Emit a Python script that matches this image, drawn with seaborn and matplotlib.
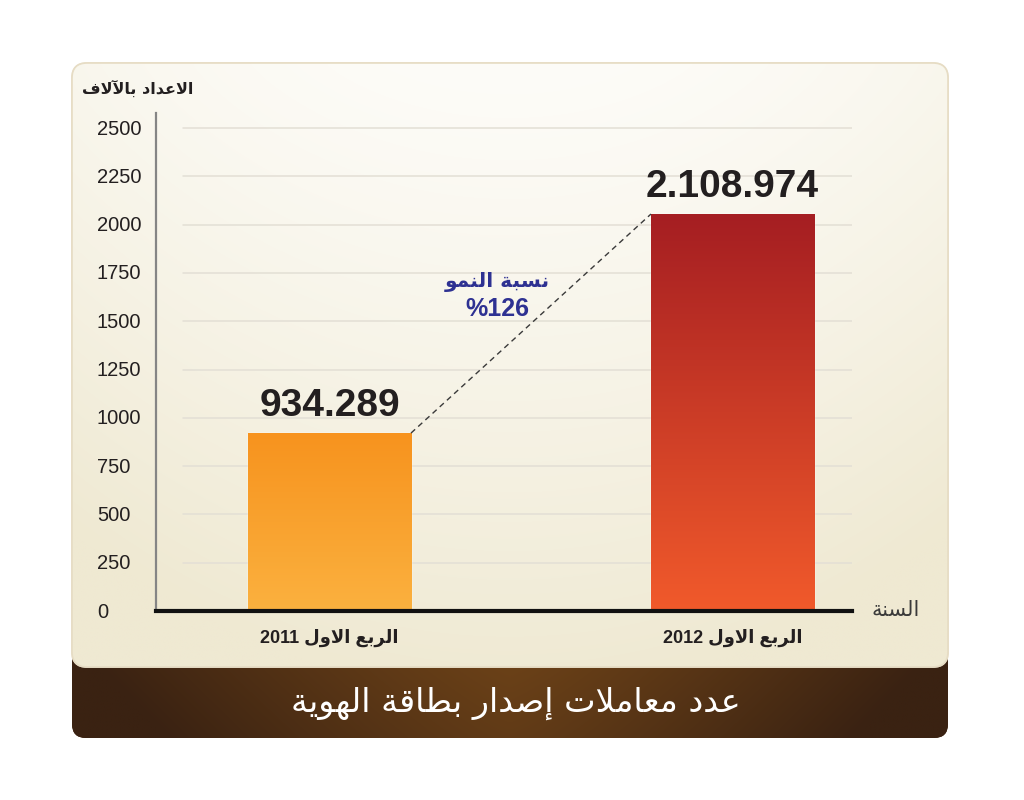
import re
import numpy as np
import pandas as pd
import matplotlib
matplotlib.use("Agg")
import matplotlib.pyplot as plt
import matplotlib.transforms as mtrans
from matplotlib.patches import FancyBboxPatch
from matplotlib.colors import to_rgb
import seaborn as sns

# ---------------- data ----------------
categories = ["الربع الاول 2011", "الربع الاول 2012"]
values = [921, 2055]
value_labels = ["934.289", "2.108.974"]
y_ticks = [0, 250, 500, 750, 1000, 1250, 1500, 1750, 2000, 2250, 2500]
y_title = "الاعداد بالآلاف"
x_title = "السنة"
growth_title = "نسبة النمو"
growth_value = "%126"
chart_title = "عدد معاملات إصدار بطاقة الهوية"

# ---------------- minimal Arabic shaping (contextual forms + RTL order) ----------------
FORMS = {
    'ا': ('\uFE8D', '\uFE8E'), 'آ': ('\uFE81', '\uFE82'), 'إ': ('\uFE87', '\uFE88'),
    'أ': ('\uFE83', '\uFE84'), 'د': ('\uFEA9', '\uFEAA'), 'ر': ('\uFEAD', '\uFEAE'),
    'و': ('\uFEED', '\uFEEE'), 'ة': ('\uFE93', '\uFE94'),
    'ب': ('\uFE8F', '\uFE90', '\uFE91', '\uFE92'), 'ت': ('\uFE95', '\uFE96', '\uFE97', '\uFE98'),
    'س': ('\uFEB1', '\uFEB2', '\uFEB3', '\uFEB4'), 'ص': ('\uFEB9', '\uFEBA', '\uFEBB', '\uFEBC'),
    'ط': ('\uFEC1', '\uFEC2', '\uFEC3', '\uFEC4'), 'ع': ('\uFEC9', '\uFECA', '\uFECB', '\uFECC'),
    'ف': ('\uFED1', '\uFED2', '\uFED3', '\uFED4'), 'ق': ('\uFED5', '\uFED6', '\uFED7', '\uFED8'),
    'ل': ('\uFEDD', '\uFEDE', '\uFEDF', '\uFEE0'), 'م': ('\uFEE1', '\uFEE2', '\uFEE3', '\uFEE4'),
    'ن': ('\uFEE5', '\uFEE6', '\uFEE7', '\uFEE8'), 'ه': ('\uFEE9', '\uFEEA', '\uFEEB', '\uFEEC'),
    'ي': ('\uFEF1', '\uFEF2', '\uFEF3', '\uFEF4'),
}
LAM_ALEF = {'ا': ('\uFEFB', '\uFEFC'), 'آ': ('\uFEF5', '\uFEF6'),
            'إ': ('\uFEF9', '\uFEFA'), 'أ': ('\uFEF7', '\uFEF8')}


def _dual(ch):
    return ch is not None and ch in FORMS and len(FORMS[ch]) == 4


def ar(text):
    res = []
    i, n = 0, len(text)
    while i < n:
        c = text[i]
        prev = text[i - 1] if i > 0 else None
        jp = _dual(prev)
        if c == 'ل' and i + 1 < n and text[i + 1] in LAM_ALEF:
            res.append(LAM_ALEF[text[i + 1]][1 if jp else 0])
            i += 2
            continue
        if c not in FORMS:
            res.append(c)
            i += 1
            continue
        nxt = text[i + 1] if i + 1 < n else None
        jn = len(FORMS[c]) == 4 and nxt in FORMS
        f = FORMS[c]
        if jp and jn:
            res.append(f[3])
        elif jp:
            res.append(f[1])
        elif jn:
            res.append(f[2])
        else:
            res.append(f[0])
        i += 1
    s = ''.join(res)[::-1]
    return re.sub(r'[0-9.%]+', lambda m: m.group(0)[::-1], s)


# ---------------- figure & decorative background ----------------
sns.set_style("white")
plt.rcParams['font.family'] = ['Liberation Sans', 'DejaVu Sans']

W, H = 1024, 800
fig = plt.figure(figsize=(W / 100, H / 100), dpi=100)
fig.patch.set_facecolor("white")

bg = fig.add_axes([0, 0, 1, 1], zorder=0)
bg.set_xlim(0, W)
bg.set_ylim(H, 0)
bg.axis('off')

# brown title band
bx0, by0, bw, bh = 72, 640, 876, 98
band = FancyBboxPatch((bx0, by0), bw, bh, boxstyle="round,pad=0,rounding_size=14",
                      facecolor="#4a2c14", edgecolor="none", zorder=1)
bg.add_patch(band)
xs = np.linspace(0, 1, 400)[None, :]
ys = np.linspace(0, 1, 60)[:, None]
e = np.abs(xs - 0.5) * 2
c_mid = np.array([110, 67, 24]) / 255
c_edge = np.array([58, 34, 18]) / 255
mix = np.clip(e ** 1.2 + 0.25 * ys, 0, 1)[:, :, None]
band_img = c_mid * (1 - mix) + c_edge * mix
im = bg.imshow(band_img, extent=(bx0, bx0 + bw, by0 + bh, by0), origin='upper',
               aspect='auto', zorder=1.1, interpolation='bilinear')
im.set_clip_path(band)

# cream panel
px0, py0, pw, ph = 72, 63, 876, 604
panel = FancyBboxPatch((px0, py0), pw, ph, boxstyle="round,pad=0,rounding_size=15",
                       facecolor="#f8f4e8", edgecolor="#e9e1cc", lw=1.2, zorder=2)
bg.add_patch(panel)
xs = np.linspace(0, 1, 300)[None, :]
ys = np.linspace(0, 1, 300)[:, None]
e = np.abs(xs - 0.5) * 2
c_top = np.array([253, 252, 248]) / 255
c_bot = np.array([239, 233, 210]) / 255
mix = np.clip(ys ** 1.2 * 0.95 + (e ** 2) * 0.3, 0, 1)[:, :, None]
panel_img = c_top * (1 - mix) + c_bot * mix
im = bg.imshow(panel_img, extent=(px0, px0 + pw, py0 + ph, py0), origin='upper',
               aspect='auto', zorder=2.1, interpolation='bilinear')
im.set_clip_path(panel)
bg.add_patch(FancyBboxPatch((px0, py0), pw, ph, boxstyle="round,pad=0,rounding_size=15",
                            facecolor="none", edgecolor="#e6dcc4", lw=1.2, zorder=2.2))

# ---------------- main chart ----------------
ax = fig.add_axes([156 / W, 1 - 611 / H, 696 / W, 498 / H], zorder=3)
ax.patch.set_alpha(0)

df = pd.DataFrame({"quarter": categories, "value": values})
bar_tops = ["#f7931e", "#a51e22"]
bar_bottoms = ["#fbb13f", "#f15a2b"]
sns.barplot(data=df, x="quarter", y="value", hue="quarter", palette=bar_tops,
            width=0.4045, saturation=1, legend=False, ax=ax, zorder=3)

xlim = (-0.4305, 1.2965)
ylim = (0, 2578)

patches = sorted(ax.patches, key=lambda p: p.get_x())
for patch, ct, cb in zip(patches, bar_tops, bar_bottoms):
    x0, y0 = patch.get_x(), patch.get_y()
    w, h = patch.get_width(), patch.get_height()
    g = np.linspace(0, 1, 256)[:, None, None]
    img = np.array(to_rgb(ct))[None, None, :] * (1 - g) + np.array(to_rgb(cb))[None, None, :] * g
    im = ax.imshow(img, extent=(x0, x0 + w, y0, y0 + h), origin='upper', aspect='auto',
                   zorder=3.1, interpolation='bilinear')
    im.set_clip_path(patch)

# grid lines (start a little right of the axis)
for t in y_ticks[1:]:
    ax.axhline(t, xmin=0.039, xmax=1, color="#e3dfd5", lw=1.1, zorder=1)

# dashed growth line between bar tops
p1, p2 = patches
ax.plot([p1.get_x() + p1.get_width(), p2.get_x()], [p1.get_height(), p2.get_height()],
        color="#3a3a3a", lw=1.0, dashes=(4, 3), zorder=4)

# value labels
for p, lab in zip(patches, value_labels):
    ax.annotate(lab, (p.get_x() + p.get_width() / 2, p.get_height()), xytext=(0, 12),
                textcoords="offset points", ha="center", va="baseline",
                fontsize=28, fontweight="bold", color="#231f20",
                family=["Liberation Sans", "DejaVu Sans"], zorder=5)

# growth annotation
ax.text(0.4157, 1703, ar(growth_title), ha="center", va="center", fontsize=14.5,
        fontweight="bold", color="#2e3192", family=["DejaVu Sans"], zorder=5)
ax.text(0.4157, 1565, growth_value, ha="center", va="center", fontsize=18,
        fontweight="bold", color="#2e3192", family=["Liberation Sans", "DejaVu Sans"], zorder=5)

ax.set_xlim(*xlim)
ax.set_ylim(*ylim)
ax.set_yticks(y_ticks)
ax.set_yticklabels([str(t) for t in y_ticks])
ax.set_xticks([0, 1])
ax.set_xticklabels([ar(c) for c in categories])
ax.set_xlabel("")
ax.set_ylabel("")

ax.tick_params(axis="y", direction="in", length=5.8, width=1.5, color="#6d6d6d",
               pad=42.5, labelsize=14.5, labelcolor="#231f20")
ax.tick_params(axis="x", length=0, pad=13, labelsize=13, labelcolor="#231f20")
for lab in ax.get_yticklabels():
    lab.set_ha("left")
    lab.set_transform(lab.get_transform() + mtrans.ScaledTranslation(0, 0.7 / 72, fig.dpi_scale_trans))
for lab in ax.get_xticklabels():
    lab.set_fontweight("bold")
    lab.set_family(["Liberation Sans", "DejaVu Sans"])

for s in ["top", "right"]:
    ax.spines[s].set_visible(False)
ax.spines["left"].set_color("#858585")
ax.spines["left"].set_linewidth(1.6)
ax.spines["bottom"].set_color("#111111")
ax.spines["bottom"].set_linewidth(3.0)
ax.spines["bottom"].set_zorder(6)

# axis titles & chart title
fig.text(193 / W, 1 - 88 / H, ar(y_title), ha="right", va="center", fontsize=11.5,
         fontweight="bold", color="#231f20", family=["DejaVu Sans"])
fig.text(920 / W, 1 - 610 / H, ar(x_title), ha="right", va="center", fontsize=15,
         color="#3a3a3a", family=["DejaVu Sans"])
fig.text(516 / W, 1 - 703 / H, ar(chart_title), ha="center", va="center", fontsize=24,
         color="white", family=["DejaVu Sans"], zorder=10)

fig.savefig("out.png", dpi=100)
